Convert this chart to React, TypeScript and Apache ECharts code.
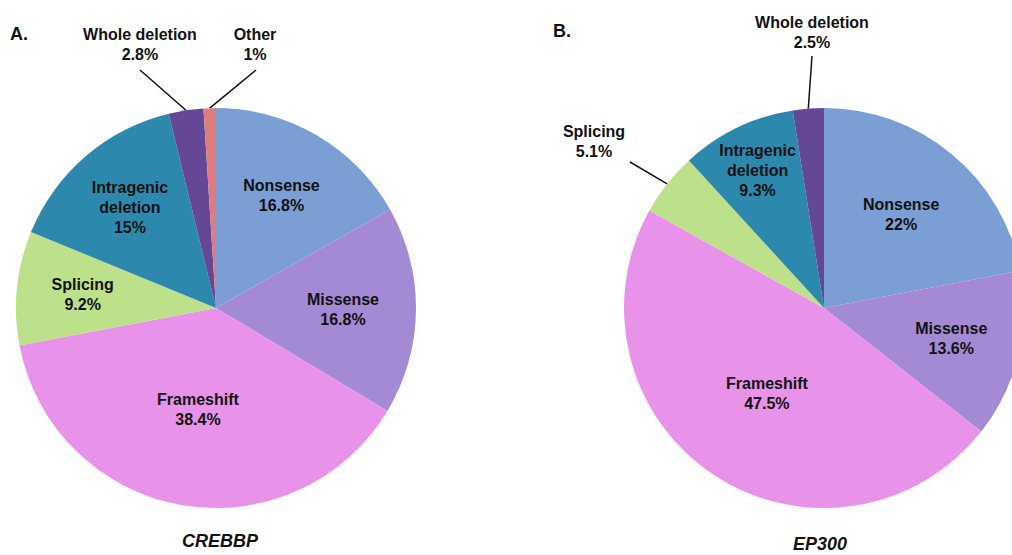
import React, { useEffect, useRef } from 'react';
import * as echarts from 'echarts';

const categories = ['Nonsense', 'Missense', 'Frameshift', 'Splicing', 'Intragenic deletion', 'Whole deletion', 'Other'];
const labelNames = ['Nonsense', 'Missense', 'Frameshift', 'Splicing', 'Intragenic\ndeletion', 'Whole deletion', 'Other'];
const crebbpValues = [16.8, 16.8, 38.4, 9.2, 15, 2.8, 1];
const ep300Values = [22, 13.6, 47.5, 5.1, 9.3, 2.5];
const panelTitles = ['A.', 'B.'];
const geneNames = ['CREBBP', 'EP300'];

const colors = ['#7b9fd5', '#a48ad4', '#e893e9', '#bde08a', '#2c89ad', '#644796', '#e07c80'];

const FONT = '"Liberation Sans", Arial, Helvetica, sans-serif';
const R = 200;

type Outside = { x: number; y: number; end: number[] };
type PieCfg = {
  values: number[];
  center: number[];
  labelR: (number | null)[];
  outside: Record<number, Outside>;
};

const pies: PieCfg[] = [
  {
    values: crebbpValues,
    center: [216, 308],
    labelR: [127, 124, 100, 131, 129, null, null],
    outside: {
      5: { x: 140, y: 44, end: [140, 70] },
      6: { x: 255, y: 44, end: [256, 70] },
    },
  },
  {
    values: ep300Values,
    center: [824, 308],
    labelR: [118, 128, 100, null, 150, null],
    outside: {
      3: { x: 594, y: 141, end: [630, 162] },
      5: { x: 812, y: 32, end: [812, 56] },
    },
  },
];

const labelText = (i: number, v: number) => `${labelNames[i]}\n${v}%`;

const textStyle = {
  color: '#111',
  fontFamily: FONT,
  fontWeight: 'bold' as const,
  fontSize: 16,
  lineHeight: 20,
};

function buildSeries() {
  const series: any[] = [];
  pies.forEach((pie) => {
    series.push({
      type: 'pie',
      center: pie.center,
      radius: [0, R],
      startAngle: 90,
      clockwise: true,
      avoidLabelOverlap: false,
      silent: true,
      emphasis: { disabled: true },
      data: pie.values.map((v, i) => {
        const out = pie.outside[i];
        return {
          name: categories[i],
          value: v,
          itemStyle: { color: colors[i], borderWidth: 0 },
          label: out
            ? { show: true, position: 'outside', formatter: labelText(i, v), ...textStyle }
            : { show: false },
          labelLine: out
            ? { show: true, length: 10, length2: 0, lineStyle: { color: '#111', width: 1.5 } }
            : { show: false },
        };
      }),
      labelLayout: (p: any) => {
        const o = pie.outside[p.dataIndex];
        if (!o) return {};
        const start = p.labelLinePoints && p.labelLinePoints[0] ? p.labelLinePoints[0] : o.end;
        return {
          x: o.x,
          y: o.y,
          align: 'center',
          verticalAlign: 'middle',
          labelLinePoints: [start, o.end, o.end],
        };
      },
    });
    pie.labelR.forEach((lr, idx) => {
      if (lr == null) return;
      series.push({
        type: 'pie',
        center: pie.center,
        radius: [Math.max(0, 2 * lr - R), R],
        startAngle: 90,
        clockwise: true,
        avoidLabelOverlap: false,
        silent: true,
        emphasis: { disabled: true },
        data: pie.values.map((v, i) => ({
          name: categories[i],
          value: v,
          itemStyle: { color: 'rgba(0,0,0,0)', borderWidth: 0 },
          label:
            i === idx
              ? { show: true, position: 'inside', formatter: labelText(i, v), ...textStyle }
              : { show: false },
          labelLine: { show: false },
        })),
      });
    });
  });
  return series;
}

export default function App() {
  const ref = useRef<HTMLDivElement>(null);
  useEffect(() => {
    document.body.style.margin = '0';
    if (!ref.current) return;
    const chart = echarts.init(ref.current, undefined, { renderer: 'svg' });
    chart.setOption({
      animation: false,
      backgroundColor: '#ffffff',
      graphic: [
        {
          type: 'text',
          x: 10,
          y: 34,
          style: { text: panelTitles[0], font: `bold 18px ${FONT}`, fill: '#111', textVerticalAlign: 'middle' },
        },
        {
          type: 'text',
          x: 553,
          y: 31,
          style: { text: panelTitles[1], font: `bold 18px ${FONT}`, fill: '#111', textVerticalAlign: 'middle' },
        },
        {
          type: 'text',
          x: 220,
          y: 541,
          style: {
            text: geneNames[0],
            font: `italic bold 18px ${FONT}`,
            fill: '#111',
            textAlign: 'center',
            textVerticalAlign: 'middle',
          },
        },
        {
          type: 'text',
          x: 820,
          y: 544,
          style: {
            text: geneNames[1],
            font: `italic bold 18px ${FONT}`,
            fill: '#111',
            textAlign: 'center',
            textVerticalAlign: 'middle',
          },
        },
      ],
      series: buildSeries(),
    });
    return () => chart.dispose();
  }, []);
  return <div ref={ref} style={{ width: 1012, height: 555 }} />;
}
